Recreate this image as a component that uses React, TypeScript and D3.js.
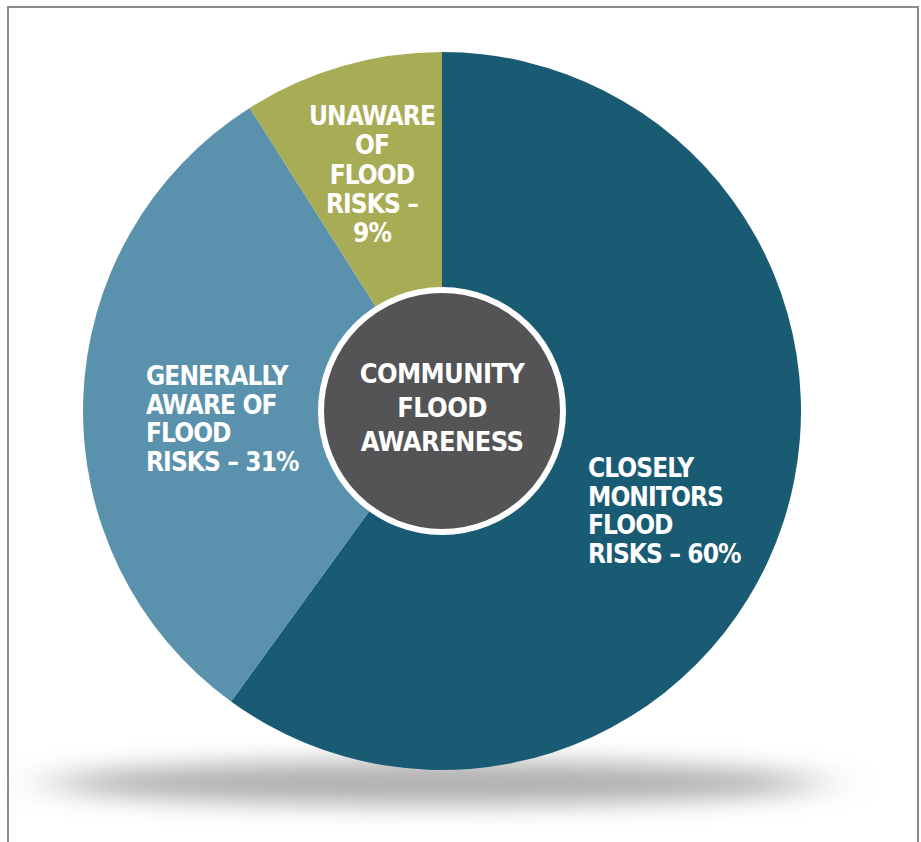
import React from "react";
import * as d3 from "d3";

// Share of the community by flood-awareness level (percent)
const categories = ["CLOSELY MONITORS FLOOD RISKS", "GENERALLY AWARE OF FLOOD RISKS", "UNAWARE OF FLOOD RISKS"];
const values = [60, 31, 9];
const colors = ["#1a5b74", "#5a91ad", "#a8ac55"];

// Wrapped label lines for each slice
const labelLines = [
  ["CLOSELY", "MONITORS", "FLOOD", "RISKS – 60%"],
  ["GENERALLY", "AWARE OF", "FLOOD", "RISKS – 31%"],
  ["UNAWARE", "OF", "FLOOD", "RISKS –", "9%"],
];
const centerLines = ["COMMUNITY", "FLOOD", "AWARENESS"];

const W = 921;
const H = 842;
const cx = 442;
const cy = 411;
const R = 359;
const innerR = 121;

const FONT = "'DejaVu Sans Condensed', 'Liberation Sans Narrow', sans-serif";

// label anchors and line heights for each slice
const labelPos = [
  { x: 588, y: 477, anchor: "start", lh: 28.5 },
  { x: 146, y: 385, anchor: "start", lh: 28.5 },
  { x: 372, y: 125, anchor: "middle", lh: 29.3 },
];

export default function App() {
  const pie = d3
    .pie<number>()
    .sort(null)
    .startAngle(0)
    .endAngle(2 * Math.PI)
    .value((d) => d);
  const arcs = pie(values);
  const arc = d3.arc<d3.PieArcDatum<number>>().innerRadius(0).outerRadius(R);

  return (
    <svg width={W} height={H} style={{ display: "block", position: "absolute", left: 0, top: 0 }}>
      <defs>
        <filter id="shadowBlur" x="-30%" y="-300%" width="160%" height="700%">
          <feGaussianBlur stdDeviation="32 12" />
        </filter>
      </defs>
      <rect x={0} y={0} width={W} height={H} fill="#ffffff" />
      <rect x={8} y={7} width={910} height={H + 10} fill="none" stroke="#8a8a8a" strokeWidth={2} />

      {/* ground shadow */}
      <ellipse cx={435} cy={783} rx={385} ry={22} fill="#9c9c9e" filter="url(#shadowBlur)" opacity={0.8} />

      <g transform={`translate(${cx},${cy})`}>
        {arcs.map((a, i) => (
          <path key={categories[i]} d={arc(a) || ""} fill={colors[i]} />
        ))}
        <circle r={innerR} fill="#545456" stroke="#ffffff" strokeWidth={6} />
      </g>

      {labelPos.map((p, i) => (
        <text
          key={categories[i]}
          x={p.x}
          y={p.y}
          textAnchor={p.anchor as any}
          fill="#ffffff"
          fontFamily={FONT}
          fontWeight={700}
          fontSize={26}
          letterSpacing={-0.9}
        >
          {labelLines[i].map((l, j) => (
            <tspan key={j} x={p.x} y={p.y + j * p.lh}>
              {l}
            </tspan>
          ))}
        </text>
      ))}

      <text
        x={cx}
        y={383}
        textAnchor="middle"
        fill="#ffffff"
        fontFamily={FONT}
        fontWeight={700}
        fontSize={27}
        letterSpacing={-0.6}
      >
        {centerLines.map((l, j) => (
          <tspan key={j} x={cx} y={383 + j * 34}>
            {l}
          </tspan>
        ))}
      </text>
    </svg>
  );
}
